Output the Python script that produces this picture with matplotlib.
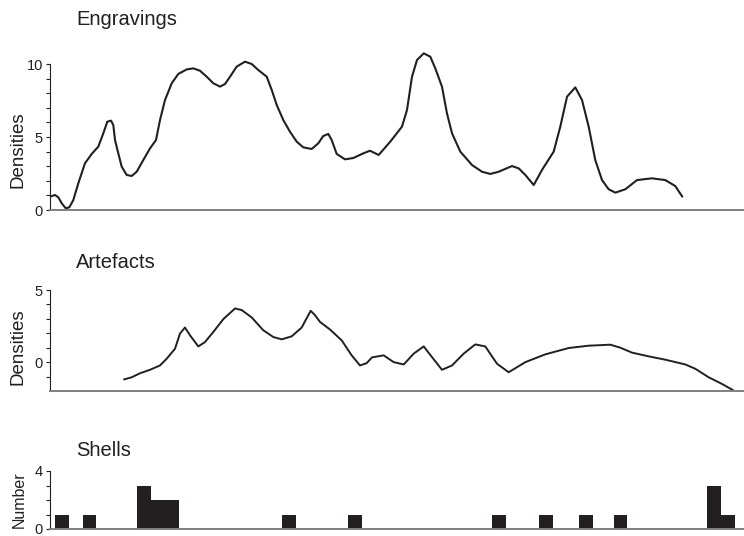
import matplotlib
matplotlib.use("Agg")
import matplotlib.pyplot as plt
from matplotlib.ticker import MultipleLocator, FixedLocator

plt.rcParams['font.family'] = ['Liberation Sans', 'DejaVu Sans']

# Engravings density curve (x on a 0-100 relative scale)
engr_x = [0.0, 0.72, 1.2, 1.69, 2.26, 2.78, 3.36, 4.08, 5.04, 6.01, 6.96, 7.68, 8.26, 8.79,
          9.12, 9.37, 9.84, 10.33, 11.05, 11.77, 12.49, 13.44, 14.41, 15.27, 15.85, 16.57,
          17.54, 18.49, 19.7, 20.65, 21.61, 22.58, 23.53, 24.5, 25.22, 25.94, 26.9, 28.1,
          29.06, 30.01, 31.23, 31.95, 32.67, 33.62, 34.58, 35.55, 36.5, 37.71, 38.66, 39.38,
          40.1, 40.59, 41.31, 42.51, 43.7, 45.14, 46.11, 47.36, 49.03, 50.72, 51.44, 52.16,
          52.88, 53.85, 54.8, 55.52, 56.48, 57.2, 57.93, 59.12, 60.81, 62.25, 63.44, 64.65,
          66.57, 67.54, 68.49, 69.7, 70.89, 72.58, 73.53, 74.5, 75.69, 76.66, 77.62, 78.57,
          79.54, 80.5, 81.46, 82.9, 84.58, 86.74, 88.66, 90.1, 91.17]
engr_y = [0.91, 1.03, 0.87, 0.46, 0.12, 0.18, 0.68, 1.83, 3.2, 3.84, 4.34, 5.25, 6.05, 6.12,
          5.82, 4.79, 3.88, 2.97, 2.4, 2.33, 2.62, 3.42, 4.22, 4.79, 6.16, 7.53,
          8.68, 9.32, 9.63, 9.7, 9.54, 9.13, 8.68, 8.45, 8.63, 9.13, 9.82, 10.16,
          10.0, 9.59, 9.13, 8.22, 7.19, 6.16, 5.36, 4.68, 4.29, 4.18, 4.57, 5.07,
          5.21, 4.79, 3.84, 3.47, 3.56, 3.88, 4.06, 3.77, 4.68, 5.71, 6.85, 9.13,
          10.27, 10.73, 10.5, 9.7, 8.45, 6.62, 5.25, 4.0, 3.08, 2.62, 2.47, 2.62,
          3.01, 2.85, 2.4, 1.71, 2.74, 4.0, 5.71, 7.76, 8.4, 7.53, 5.71, 3.42,
          2.05, 1.42, 1.19, 1.42, 2.05, 2.17, 2.05, 1.64, 0.87]

# Artefacts density curve
art_x = [10.56, 11.77, 12.97, 14.41, 15.85, 16.82, 18.01, 18.73, 19.45, 20.17, 21.37, 22.33,
         23.53, 24.97, 26.66, 27.62, 29.06, 30.73, 32.18, 33.39, 34.83, 36.27, 37.56, 38.18,
         38.9, 40.35, 42.03, 43.47, 44.67, 45.63, 46.4, 48.08, 49.52, 50.97, 52.41, 53.85,
         55.04, 56.48, 57.93, 59.61, 61.28, 62.72, 64.41, 66.09, 68.49, 71.37, 74.74, 77.62,
         80.74, 82.18, 83.86, 86.27, 88.66, 91.54, 92.98, 94.91, 96.83, 98.52]
art_y = [-1.21, -1.05, -0.77, -0.53, -0.23, 0.24, 0.93, 1.98, 2.4, 1.86, 1.09, 1.39,
         2.09, 2.98, 3.72, 3.61, 3.1, 2.21, 1.74, 1.58, 1.79, 2.4, 3.56, 3.26,
         2.79, 2.26, 1.51, 0.47, -0.23, -0.07, 0.33, 0.47, 0.0, -0.16, 0.59, 1.09,
         0.35, -0.53, -0.23, 0.59, 1.23, 1.09, -0.11, -0.7, 0.0, 0.54, 0.98, 1.14,
         1.21, 1.0, 0.66, 0.4, 0.17, -0.16, -0.46, -1.05, -1.51, -1.97]

# Shells counts (left edge of each bin)
shell_x = [0.7, 4.7, 12.6, 14.6, 16.6, 33.5, 43.0, 63.7, 70.5, 76.2, 81.2, 94.7, 96.7]
shell_n = [1, 1, 3, 2, 2, 1, 1, 1, 1, 1, 1, 3, 1]

ink = '#231f20'
W, H = 744, 536
fig = plt.figure(figsize=(W / 100, H / 100), dpi=100)


def panel(top, bottom, ylim, major, minor, title, ylabel, label_y, label_size, title_base):
    ax = fig.add_axes([50 / W, 1 - bottom / H, (W - 50) / W, (bottom - top) / H])
    ax.set_xlim(0, 100)
    ax.set_ylim(*ylim)
    ax.set_xticks([])
    ax.yaxis.set_major_locator(MultipleLocator(major))
    ax.yaxis.set_minor_locator(FixedLocator(minor))
    ax.tick_params(axis='y', which='both', direction='out', length=3, width=0.8,
                   labelsize=10.5, pad=2, colors=ink)
    for s in ('top', 'right'):
        ax.spines[s].set_visible(False)
    ax.spines['left'].set_color(ink)
    ax.spines['left'].set_linewidth(0.8)
    ax.spines['bottom'].set_color('#808080')
    ax.spines['bottom'].set_linewidth(1.4)
    ax.set_ylabel(ylabel, fontsize=label_size, color=ink)
    ax.yaxis.set_label_coords(-0.034, label_y)
    fig.text(76 / W, 1 - title_base / H, title, fontsize=14.5, color=ink,
             ha='left', va='baseline')
    return ax


ax1 = panel(64, 210, (0, 10), 5, range(1, 10), 'Engravings', 'Densities', 0.41, 13.5, 25)
ax1.plot(engr_x, engr_y, color=ink, lw=1.5, clip_on=False,
         solid_capstyle='butt', solid_joinstyle='round')

ax2 = panel(290, 391, (-2, 5), 5, range(-1, 5), 'Artefacts', 'Densities', 0.44, 13.5, 268)
ax2.plot(art_x, art_y, color=ink, lw=1.4, clip_on=False,
         solid_capstyle='butt', solid_joinstyle='round')

ax3 = panel(471, 529, (0, 4), 4, range(1, 4), 'Shells', 'Number', 0.51, 11.5, 456)
ax3.bar(shell_x, shell_n, width=2, align='edge', color=ink, linewidth=0)

fig.savefig('out.png', dpi=100)
